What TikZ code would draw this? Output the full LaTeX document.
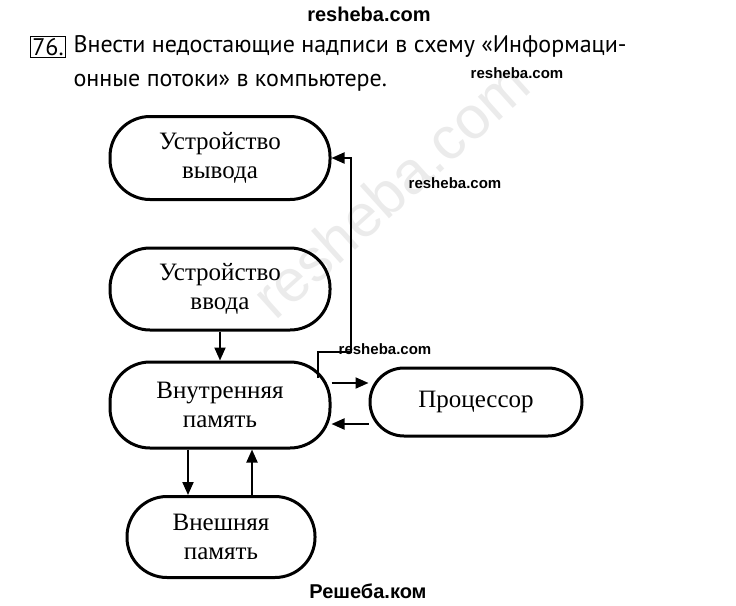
\documentclass[tikz,border=0pt]{standalone}
\usepackage{fontspec}
\setmainfont{Liberation Serif}
\newfontfamily\titlefont{PT Sans}
\newfontfamily\markfont{Liberation Sans}
\usetikzlibrary{arrows.meta,positioning}

\begin{document}
\begin{tikzpicture}[x=1pt, y=-1pt,
    unit/.style={rectangle, draw=black, line width=3pt, rounded corners=40pt,
    text centered, text=black, align=center, font=\fontsize{25}{29}\selectfont},
    flow/.style={line width=2pt, -{Triangle[length=13pt,width=11pt]}},
    wmark/.style={font=\markfont\bfseries\fontsize{15}{17}\selectfont}]
    \useasboundingbox (0,0) rectangle (736,605);
    % watermarks
    \node[rotate=42, text=black!8, font=\markfont\fontsize{60}{60}\selectfont] (wmbig) at (390,190) {resheba.com};
    \node[wmark, font=\markfont\bfseries\fontsize{20}{22}\selectfont] (wmtop) at (369,14) {resheba.com};
    \node[wmark] (wma) at (517,73) {resheba.com};
    \node[wmark] (wmb) at (455,183) {resheba.com};
    \node[wmark] (wmc) at (385,349) {resheba.com};
    \node[wmark, font=\markfont\bfseries\fontsize{20}{22}\selectfont] (wmbot) at (368,591) {Решеба.ком};
    % task text
    \node[draw, line width=1pt, inner sep=2pt, font=\titlefont\fontsize{24}{28}\selectfont] (num) at (48,47) {76.};
    \node[anchor=west, align=left, font=\titlefont\fontsize{24}{34}\selectfont] (task) at (70,63)
    {Внести недостающие надписи в схему «Информаци-\\онные потоки» в компьютере.};
    % units
    \node (output) [unit, minimum width=220pt, minimum height=83pt] at (220,158) {Устройство\\вывода};
    \node (input) [unit, minimum width=220pt, minimum height=82pt] at (220,289) {Устройство\\ввода};
    \node (memory) [unit, minimum width=220pt, minimum height=86pt] at (220,405) {Внутренняя\\память};
    \node (cpu) [unit, minimum width=212pt, minimum height=68pt, rounded corners=34pt] at (476,402) {Процессор};
    \node (disk) [unit, minimum width=188pt, minimum height=81pt] at (221,537) {Внешняя\\память};
    \coordinate (bend) at (318,352);
    \coordinate (rise) at (351,352);

    \draw[flow] (bend) ++(0,26) -- (bend) -- (rise) |- (output.east);
    \draw[flow] (input.south) -- (memory.north);
    \draw[flow] ([yshift=22pt]memory.east) -- ([yshift=19pt]cpu.west);
    \draw[flow] ([yshift=-22pt]cpu.west) -- ([yshift=-19pt]memory.east);
    \draw[flow] ([xshift=-32pt]memory.south) -- ([xshift=-33pt]disk.north);
    \draw[flow] ([xshift=31pt]disk.north) -- ([xshift=32pt]memory.south);
\end{tikzpicture}
\end{document}
